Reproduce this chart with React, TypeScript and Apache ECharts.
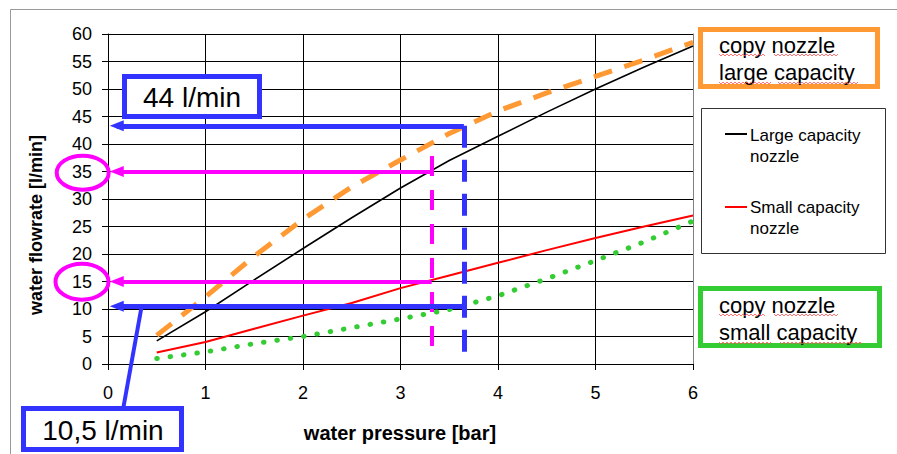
import React, { useEffect, useRef } from "react";
import * as echarts from "echarts";

// ---- data ----
const pressureBar = [0.5, 1, 1.5, 2, 2.5, 3, 3.5, 4, 4.5, 5, 5.5, 6];
const largeCapacityNozzle = [4.2, 9.5, 15.3, 21, 26.6, 32, 37, 41.4, 45.8, 50, 54, 57.8];
const smallCapacityNozzle = [2.1, 4.0, 6.4, 8.8, 11.1, 13.8, 16.1, 18.4, 20.7, 22.9, 25.0, 27.0];
const copyLargeCapacity = [5.2, 12.2, 19.6, 26.3, 32.2, 37.1, 41.9, 46.0, 49.3, 52.3, 55.3, 58.5];
const copySmallCapacity = [1.0, 2.2, 3.7, 5.0, 6.6, 8.2, 9.9, 12.4, 15.5, 18.8, 22.2, 26.0];

// readings (annotations)
const bluePressure = 3.65;
const blueFlows = [43.3, 10.5];
const blueVerticalEnd = 0.7;
const pinkPressure = 3.32;
const pinkFlows = [35, 15];
const pinkVerticalTop = 37.8;
const pinkVerticalEnd = 1.6;
const arrowTipX = 0.09;

const xMin = 0, xMax = 6, xInterval = 1;
const yMin = 0, yMax = 60, yInterval = 5;

const legendNames = ["Large capacity\nnozzle", "Small capacity\nnozzle"];
const copyLargeLabel = "copy nozzle\nlarge capacity";
const copySmallLabel = "copy nozzle\nsmall capacity";
const blueLabels = ["44 l/min", "10,5 l/min"];
const xTitle = "water pressure [bar]";
const yTitle = "water flowrate [l/min]";

const BLUE = "#3333ff";
const PINK = "#ff00ff";
const ORANGE = "#ff9933";
const GREEN = "#33cc33";
const FONT = "'Liberation Sans', Arial, sans-serif";

const pairs = (xs: number[], ys: number[]) => xs.map((x, i) => [x, ys[i]]);

function wavy(x1: number, x2: number, y: number) {
  const pts: number[][] = [];
  let up = true;
  for (let x = x1; x <= x2; x += 2) {
    pts.push([x, up ? y - 1 : y + 1]);
    up = !up;
  }
  return {
    type: "polyline",
    shape: { points: pts },
    style: { stroke: "#ff5050", lineWidth: 0.8, fill: null },
    z: 20,
  };
}

export default function App() {
  const ref = useRef<HTMLDivElement>(null);

  useEffect(() => {
    document.body.style.margin = "0";
    if (!ref.current) return;
    const chart = echarts.init(ref.current, undefined, { renderer: "svg" });

    const arrowItem = (x0: number, y: number) => [
      { coord: [x0, y], symbol: "none" },
      { coord: [arrowTipX, y], symbol: "triangle", symbolSize: [11, 14] },
    ];

    const option: any = {
      animation: false,
      backgroundColor: "#fff",
      grid: { left: 108, right: 204, top: 34, bottom: 90, containLabel: false },
      xAxis: {
        type: "value",
        min: xMin,
        max: xMax,
        interval: xInterval,
        axisLine: { show: true, lineStyle: { color: "#000", width: 1 } },
        axisTick: { show: true, length: 6, lineStyle: { color: "#000" } },
        axisLabel: { fontSize: 18, fontFamily: FONT, color: "#000", margin: 20 },
        splitLine: { show: true, showMaxLine: false, lineStyle: { color: "#000", width: 1 } },
      },
      yAxis: [
        {
          type: "value",
          min: yMin,
          max: yMax,
          interval: yInterval,
          axisLine: { show: true, lineStyle: { color: "#000", width: 1 } },
          axisTick: { show: true, length: 6, lineStyle: { color: "#000" } },
          axisLabel: { fontSize: 18, fontFamily: FONT, color: "#000", margin: 16 },
          splitLine: { show: true, lineStyle: { color: "#000", width: 1 } },
        },
        {
          type: "value",
          position: "right",
          min: yMin,
          max: yMax,
          interval: yInterval,
          axisLine: { show: true, lineStyle: { color: "#808080", width: 1 } },
          axisTick: { show: false },
          axisLabel: { show: false },
          splitLine: { show: false },
        },
      ],
      series: [
        {
          name: "copy nozzle large capacity",
          type: "line",
          data: pairs(pressureBar, copyLargeCapacity),
          symbol: "none",
          lineStyle: { color: ORANGE, width: 5, type: [19, 13] },
          z: 3,
        },
        {
          name: "copy nozzle small capacity",
          type: "line",
          data: pairs(pressureBar, copySmallCapacity),
          symbol: "none",
          lineStyle: { color: GREEN, width: 5, type: [0.5, 13], cap: "round" },
          z: 3,
        },
        {
          name: "Large capacity nozzle",
          type: "line",
          data: pairs(pressureBar, largeCapacityNozzle),
          symbol: "none",
          lineStyle: { color: "#000", width: 1.6 },
          z: 4,
        },
        {
          name: "Small capacity nozzle",
          type: "line",
          data: pairs(pressureBar, smallCapacityNozzle),
          symbol: "none",
          lineStyle: { color: "#ff0000", width: 2 },
          z: 4,
        },
        {
          name: "pink readings",
          type: "line",
          data: [[pinkPressure, pinkFlows[0]]],
          symbol: "none",
          lineStyle: { opacity: 0 },
          z: 6,
          markLine: {
            silent: true,
            animation: false,
            label: { show: false },
            emphasis: { disabled: true },
            lineStyle: { color: PINK, width: 4, type: "solid" },
            itemStyle: { color: PINK },
            data: [
              ...pinkFlows.map((f) => arrowItem(pinkPressure, f)),
              [
                { coord: [pinkPressure, pinkVerticalTop], symbol: "none", lineStyle: { color: PINK, width: 4, type: [20, 14] } },
                { coord: [pinkPressure, pinkVerticalEnd], symbol: "none" },
              ],
            ],
          },
        },
        {
          name: "blue readings",
          type: "line",
          data: [[bluePressure, blueFlows[0]]],
          symbol: "none",
          lineStyle: { opacity: 0 },
          z: 7,
          markLine: {
            silent: true,
            animation: false,
            label: { show: false },
            emphasis: { disabled: true },
            lineStyle: { color: BLUE, width: 5, type: "solid" },
            itemStyle: { color: BLUE },
            data: [
              ...blueFlows.map((f) => arrowItem(bluePressure, f)),
              [
                { coord: [bluePressure, blueFlows[0]], symbol: "none", lineStyle: { color: BLUE, width: 5, type: [22, 12] } },
                { coord: [bluePressure, blueVerticalEnd], symbol: "none" },
              ],
            ],
          },
        },
      ],
      graphic: [
        // outer frame
        { type: "rect", shape: { x: 10.5, y: 9.5, width: 900, height: 500 }, style: { fill: null, stroke: "#999", lineWidth: 1 }, z: 0, silent: true },
        // axis titles
        { type: "text", x: 400, y: 433, style: { text: xTitle, font: `bold 20px ${FONT}`, fill: "#000", align: "center", verticalAlign: "middle" } },
        { type: "text", x: 36, y: 225, rotation: Math.PI / 2, style: { text: yTitle, font: `bold 18px ${FONT}`, fill: "#000", align: "center", verticalAlign: "middle" } },
        // legend
        { type: "rect", shape: { x: 701.5, y: 108.5, width: 184, height: 145 }, style: { fill: "#fff", stroke: "#333", lineWidth: 1 }, z: 10 },
        { type: "line", shape: { x1: 725, y1: 134, x2: 747, y2: 134 }, style: { stroke: "#000", lineWidth: 2 }, z: 11 },
        { type: "line", shape: { x1: 725, y1: 207, x2: 747, y2: 207 }, style: { stroke: "#ff0000", lineWidth: 2 }, z: 11 },
        { type: "text", x: 750, y: 125, style: { text: legendNames[0], font: `17px ${FONT}`, lineHeight: 21, fill: "#000", align: "left", verticalAlign: "top" }, z: 11 },
        { type: "text", x: 750, y: 197, style: { text: legendNames[1], font: `17px ${FONT}`, lineHeight: 21, fill: "#000", align: "left", verticalAlign: "top" }, z: 11 },
        // orange box
        { type: "rect", shape: { x: 700.5, y: 29.5, width: 177, height: 57 }, style: { fill: "#fff", stroke: ORANGE, lineWidth: 5 }, z: 10 },
        { type: "text", x: 719, y: 31.5, style: { text: copyLargeLabel, font: `22px ${FONT}`, lineHeight: 27, fill: "#000", align: "left", verticalAlign: "top" }, z: 11 },
        wavy(719, 765, 55), wavy(774, 838, 55), wavy(719, 772, 83), wavy(778, 859, 83),
        // green box
        { type: "rect", shape: { x: 700.5, y: 288.5, width: 179, height: 57 }, style: { fill: "#fff", stroke: GREEN, lineWidth: 5 }, z: 10 },
        { type: "text", x: 719, y: 291.5, style: { text: copySmallLabel, font: `22px ${FONT}`, lineHeight: 27, fill: "#000", align: "left", verticalAlign: "top" }, z: 11 },
        wavy(719, 765, 315), wavy(774, 838, 315), wavy(719, 772, 343), wavy(780, 862, 343),
        // pink ellipses around tick labels
        { type: "ellipse", shape: { cx: 82.7, cy: 172.7, rx: 26, ry: 17 }, style: { fill: null, stroke: PINK, lineWidth: 4 }, z: 12 },
        { type: "ellipse", shape: { cx: 82, cy: 281.7, rx: 26.5, ry: 18 }, style: { fill: null, stroke: PINK, lineWidth: 4 }, z: 12 },
        // blue label boxes
        { type: "rect", shape: { x: 124.5, y: 76.5, width: 135, height: 40 }, style: { fill: "#fff", stroke: BLUE, lineWidth: 5 }, z: 12 },
        { type: "text", x: 192, y: 97, style: { text: blueLabels[0], font: `28px ${FONT}`, fill: "#000", align: "center", verticalAlign: "middle" }, z: 13 },
        { type: "line", shape: { x1: 123.3, y1: 408, x2: 141.7, y2: 306 }, style: { stroke: BLUE, lineWidth: 4 }, z: 12 },
        { type: "rect", shape: { x: 23.5, y: 408.5, width: 158, height: 41 }, style: { fill: "#fff", stroke: BLUE, lineWidth: 5 }, z: 12 },
        { type: "text", x: 103, y: 430, style: { text: blueLabels[1], font: `28px ${FONT}`, fill: "#000", align: "center", verticalAlign: "middle" }, z: 13 },
      ],
    };

    chart.setOption(option);
    return () => chart.dispose();
  }, []);

  return <div ref={ref} style={{ width: 897, height: 454 }} />;
}
